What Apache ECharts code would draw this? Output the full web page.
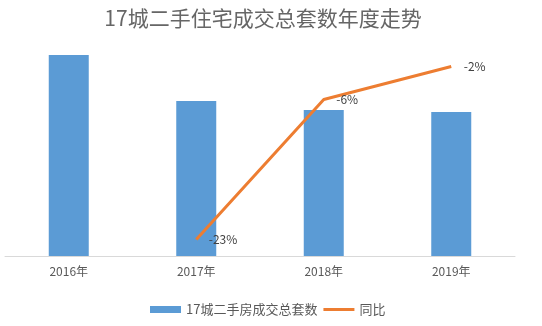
<!DOCTYPE html>
<html>
<head>
<meta charset="utf-8">
<script src="https://cdn.jsdelivr.net/npm/echarts@6/dist/echarts.min.js"></script>
<style>
  html, body { margin: 0; padding: 0; background: #fff; }
  #chart { width: 542px; height: 326px; }
</style>
</head>
<body>
<div id="chart"></div>
<script>
// Annual second-hand housing transactions in 17 cities (万套) and year-on-year change (%)
const years = ['2016年', '2017年', '2018年', '2019年'];
const totalDeals = [117.1, 90.3, 85.0, 83.9];
const yoyChange = [null, -23, -6, -2];

const FONT = '"Noto Sans CJK SC", "Noto Sans", sans-serif';
const BLUE = '#5b9bd5';
const ORANGE = '#ed7d31';

const chart = echarts.init(document.getElementById('chart'), null, { renderer: 'canvas' });

chart.setOption({
  backgroundColor: '#ffffff',
  animation: false,
  title: {
    text: '17城二手住宅成交总套数年度走势',
    left: 258,
    top: 3,
    textAlign: 'center',
    textStyle: { fontFamily: FONT, fontSize: 21, fontWeight: 'normal', color: '#666666' }
  },
  legend: {
    left: 145,
    top: 298,
    itemWidth: 31,
    itemHeight: 7,
    itemGap: 6,
    textStyle: { fontFamily: FONT, fontSize: 13, color: '#595959' },
    data: [
      { name: '17城二手房成交总套数', icon: 'rect', itemStyle: { color: BLUE } },
      { name: '同比', icon: 'path://M0,0 L31,0 L31,3 L0,3 Z', itemStyle: { color: ORANGE, opacity: 1 } }
    ]
  },
  grid: { left: 5, right: 27, top: 50, bottom: 70 },
  xAxis: {
    type: 'category',
    data: years,
    axisLine: { lineStyle: { color: '#d9d9d9', width: 1 } },
    axisTick: { show: false },
    axisLabel: { fontFamily: FONT, fontSize: 12, color: '#595959', margin: 9 }
  },
  yAxis: [
    { type: 'value', min: 0, max: 120, show: false, splitLine: { show: false } },
    { type: 'value', min: -25, max: 0, show: false, splitLine: { show: false } }
  ],
  series: [
    {
      name: '17城二手房成交总套数',
      type: 'bar',
      data: totalDeals,
      barWidth: 40,
      itemStyle: { color: BLUE }
    },
    {
      name: '同比',
      type: 'line',
      yAxisIndex: 1,
      data: yoyChange,
      symbol: 'circle',
      symbolSize: 1,
      itemStyle: { color: 'rgba(0,0,0,0)' },
      lineStyle: { color: ORANGE, width: 3 },
      label: {
        show: true,
        position: 'right',
        distance: 12,
        formatter: p => p.value + '%',
        fontFamily: FONT,
        fontSize: 12,
        color: '#404040'
      }
    }
  ]
});
</script>
</body>
</html>
